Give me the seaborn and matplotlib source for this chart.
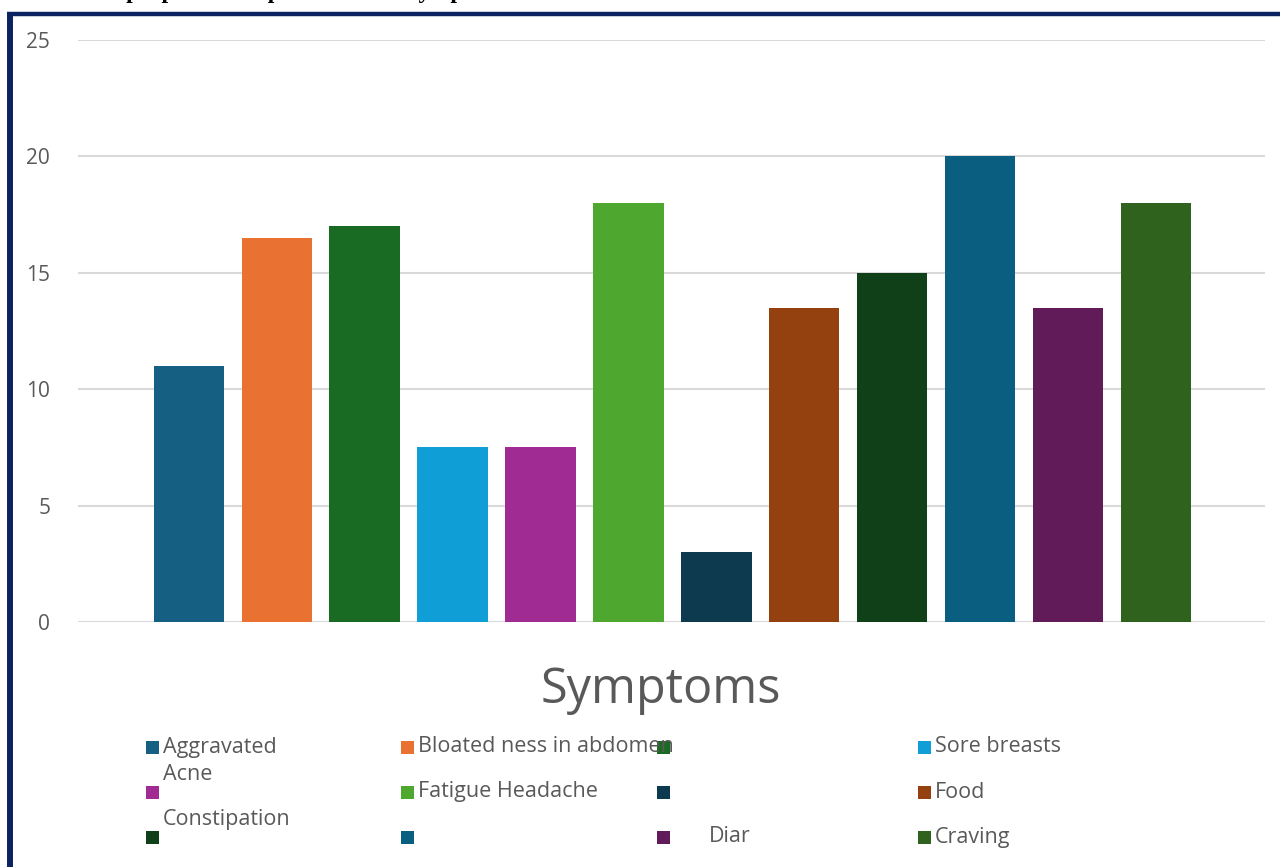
import matplotlib
matplotlib.use("Agg")
import matplotlib.pyplot as plt
import seaborn as sns
import pandas as pd
from matplotlib.patches import Rectangle
from matplotlib.lines import Line2D

# Number of people reporting each symptom (bars in legend order)
counts = [11, 16.5, 17, 7.5, 7.5, 18, 3, 13.5, 15, 20, 13.5, 18]
legend_labels = ["Aggravated", "Bloated ness in abdomen", "", "Sore breasts",
                 "Acne", "Fatigue Headache", "", "Food",
                 "Constipation", "", "Diar", "Craving"]
colors = ["#156082", "#E97132", "#196B24", "#0F9ED5",
          "#A02B93", "#4EA72E", "#0E3A50", "#95400F",
          "#0F4017", "#0A5F80", "#601B58", "#2F621C"]
y_ticks = [0, 5, 10, 15, 20, 25]
axis_title = "Symptoms"
caption = "Number of people who experienced the symptoms."

W, H = 1280, 867
sns.set_theme(style="white")
plt.rcParams["font.family"] = ["Open Sans", "DejaVu Sans"]

fig = plt.figure(figsize=(W / 100, H / 100), dpi=100)
fig.patch.set_facecolor("white")

def fx(px):
    return px / W

def fy(py):
    return 1 - py / H

ax = fig.add_axes([fx(78), fy(622), fx(1265) - fx(78), fy(40) - fy(622)])

df = pd.DataFrame({"pos": list(range(len(counts))), "count": counts})
sns.barplot(data=df, x="pos", y="count", hue="pos", palette=colors,
            legend=False, width=0.8, saturation=1, linewidth=0, ax=ax)

ax.set_xlim(-1.26, len(counts) - 1 + 1.24)
ax.set_ylim(0, 25)
ax.set_yticks(y_ticks)
ax.set_yticklabels([str(t) for t in y_ticks], color="#595959", fontsize=15)
ax.tick_params(axis="y", length=0, pad=20)
ax.set_xticks([])
ax.set_xlabel("")
ax.set_ylabel("")
for s in ax.spines.values():
    s.set_visible(False)
ax.yaxis.grid(True, color="#D9D9D9", linewidth=1.5)
ax.set_axisbelow(True)

# axis title below the plot
fig.text(fx(661), fy(690), axis_title, ha="center", va="center",
         fontsize=35, color="#595959")

# caption above the frame, mostly cut off by the top edge
fig.text(fx(518), fy(-2), caption, ha="right", va="baseline",
         fontsize=17, fontweight="bold", color="black",
         family=["Liberation Serif", "DejaVu Serif"])

# frame lines
navy = "#0C2361"
fig.add_artist(Line2D([fx(10), fx(10)], [fy(12), 0], transform=fig.transFigure,
                      color=navy, linewidth=4.3, solid_capstyle="butt"))
fig.add_artist(Line2D([fx(7), 1], [fy(14), fy(14)], transform=fig.transFigure,
                      color=navy, linewidth=3.2, solid_capstyle="butt"))

# legend laid out in a 4-column grid
col_x = [146, 401, 657, 918]
row_y = [747, 792, 837]
text_offsets = [(0, 0), (0, 0), (0, 0), (0, 0),
                (0, -18), (0, 0), (0, 0), (0, 0),
                (0, -18), (0, 0), (35, 0), (0, 0)]
sq = 13
for i, (lab, col) in enumerate(zip(legend_labels, colors)):
    cx = col_x[i % 4]
    cy = row_y[i // 4]
    fig.add_artist(Rectangle((fx(cx), fy(cy + sq / 2)), sq / W, sq / H,
                             transform=fig.transFigure, facecolor=col,
                             edgecolor="none"))
    if lab:
        dx, dy = text_offsets[i]
        fig.text(fx(cx + sq + 4 + dx), fy(cy + dy), lab, ha="left",
                 va="center", fontsize=15.5, color="#595959")

fig.savefig("out.png", dpi=100)
